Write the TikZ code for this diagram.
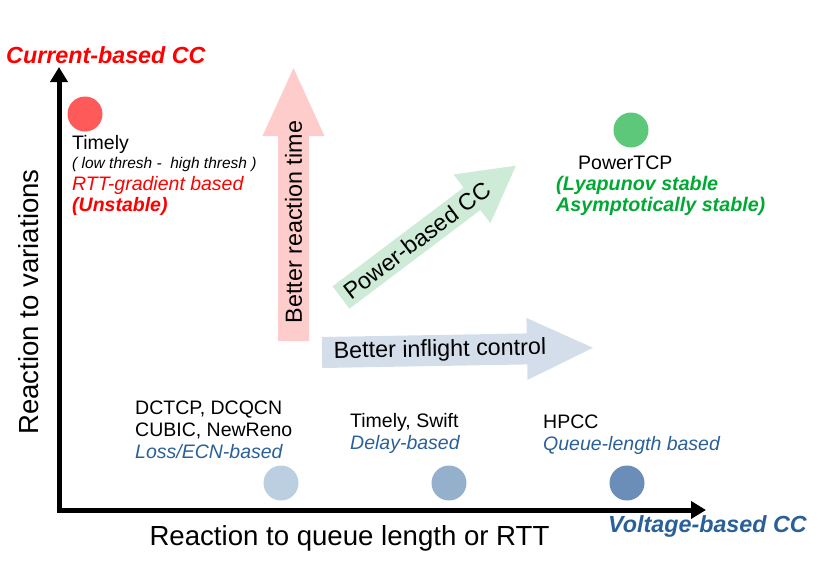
\documentclass[tikz,border=0pt]{standalone}
\usepackage{fontspec}
\setmainfont{Liberation Sans}
\usepackage{tikz}
\usetikzlibrary{arrows.meta}
\definecolor{redtx}{HTML}{FF0000}
\definecolor{reddot}{HTML}{FF5A5A}
\definecolor{greentx}{HTML}{00A933}
\definecolor{greendot}{HTML}{5EC87A}
\definecolor{bluetx}{HTML}{2A6099}
\definecolor{pinkarr}{HTML}{FFCCCC}
\definecolor{greenarr}{HTML}{CDEBD6}
\definecolor{bluearr}{HTML}{D4DEEA}
\definecolor{dotone}{HTML}{BCCFE0}
\definecolor{dottwo}{HTML}{95B0CC}
\definecolor{dotthree}{HTML}{6A8EB7}
\tikzset{
  axis/.style={line width=5pt,{Triangle[length=15pt,width=17pt]}-{Triangle[length=15pt,width=17pt]}},
  dot/.style={circle,minimum size=35pt,inner sep=0pt},
  lbl/.style={font=\fontsize{19.5}{22}\selectfont,inner sep=0pt,anchor=base west},
  note/.style={font=\fontsize{15.5}{18}\selectfont\itshape,inner sep=0pt,anchor=base west},
  arrtxt/.style={font=\fontsize{23.3}{27}\selectfont,inner sep=0pt},
  axtxt/.style={font=\fontsize{27.6}{32}\selectfont,inner sep=0pt},
  corner/.style={font=\fontsize{23.3}{27}\selectfont\bfseries\itshape,inner sep=0pt,anchor=base}
}
\begin{document}
\begin{tikzpicture}[x=1pt,y=-1pt]
\useasboundingbox (0,0) rectangle (830,587);
% block arrows
\fill[pinkarr] (278,341) -- (278,136) -- (262.5,136) -- (293.5,68) -- (324.5,136) -- (309,136) -- (309,341) -- cycle;
\node[arrtxt,rotate=90] (reacttime) at (293.5,222) {Better reaction time};
\begin{scope}[shift={(322,352.5)},rotate=1]
\fill[bluearr] (0,-15.5) -- (205,-15.5) -- (205,-31) -- (271,0) -- (205,31) -- (205,15.5) -- (0,15.5) -- cycle;
\node[arrtxt,rotate=1] (inflight) at (118,0) {Better inflight control};
\end{scope}
\begin{scope}[shift={(341,297.5)},rotate=37]
\fill[greenarr] (0,-14) -- (164,-14) -- (164,-30.5) -- (219,0) -- (164,30.5) -- (164,14) -- (0,14) -- cycle;
\node[arrtxt,rotate=37] (powercc) at (95,0) {Power-based CC};
\end{scope}
% axes
\coordinate (orig) at (59,510);
\coordinate (ytop) at (59,67);
\coordinate (xend) at (706,510);
\draw[axis] (ytop) -- (orig) -- (xend);
\node[corner,text=redtx,anchor=base west] (curcc) at (6,63) {Current-based CC};
\node[corner,text=bluetx] (voltcc) at (707.5,532) {Voltage-based CC};
\node[axtxt,anchor=base] (xlabel) at (349.5,545) {Reaction to queue length or RTT};
\node[axtxt,rotate=90] (ylabel) at (29,302) {Reaction to variations};
% Timely
\node[dot,fill=reddot] (timelydot) at (85,114) {};
\node[lbl] (timely) at (72,149) {Timely};
\node[note] (thresh) at (72,168) {( low thresh -\ \ high thresh )};
\node[lbl,text=redtx,font=\fontsize{19.5}{22}\selectfont\itshape] (gradient) at (72,190) {RTT-gradient based};
\node[lbl,text=redtx,font=\fontsize{19.5}{22}\selectfont\bfseries\itshape] (unstable) at (72,211) {(Unstable)};
% PowerTCP
\node[dot,fill=greendot] (powerdot) at (631,130) {};
\node[lbl] (powertcp) at (578,169) {PowerTCP};
\node[lbl,text=greentx,font=\fontsize{19.7}{22}\selectfont\bfseries\itshape] (lyapunov) at (556,190) {(Lyapunov stable};
\node[lbl,text=greentx,font=\fontsize{19.7}{22}\selectfont\bfseries\itshape] (asymp) at (556,211) {Asymptotically stable)};
% voltage-based schemes
\node[dot,fill=dotone] (lossdot) at (281,483) {};
\node[dot,fill=dottwo] (delaydot) at (449,483) {};
\node[dot,fill=dotthree] (queuedot) at (627,483) {};
\node[lbl] (dctcp) at (135,414) {DCTCP, DCQCN};
\node[lbl] (cubic) at (135,436) {CUBIC, NewReno};
\node[lbl,text=bluetx,font=\fontsize{19.5}{22}\selectfont\itshape] (loss) at (135,458) {Loss/ECN-based};
\node[lbl] (swift) at (350,427) {Timely, Swift};
\node[lbl,text=bluetx,font=\fontsize{19.5}{22}\selectfont\itshape] (delay) at (350,449) {Delay-based};
\node[lbl] (hpcc) at (543,428) {HPCC};
\node[lbl,text=bluetx,font=\fontsize{19.5}{22}\selectfont\itshape] (queue) at (543,450) {Queue-length based};
\end{tikzpicture}
\end{document}
